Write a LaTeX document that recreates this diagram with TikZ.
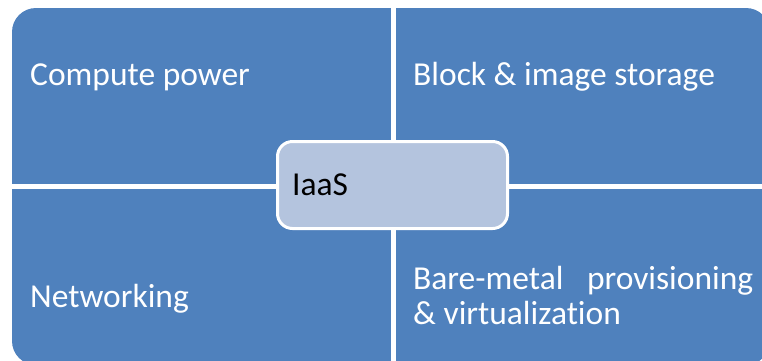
\documentclass[tikz,border=0pt]{standalone}
\usepackage{fontspec}
\setmainfont{Carlito}[Ligatures={NoCommon}]
\definecolor{quadblue}{HTML}{4F81BD}
\definecolor{centerfill}{HTML}{B4C4DE}
\tikzset{
  quadtext/.style={anchor=base west, inner sep=0pt, text=white, font=\fontsize{33.5}{35}\selectfont},
  centerbox/.style={draw=white, line width=3pt, fill=centerfill, rounded corners=15pt, inner sep=0pt},
  centertext/.style={anchor=base west, inner sep=0pt, text=black, font=\fontsize{33.5}{35}\selectfont},
  gapbar/.style={fill=white}
}
\begin{document}
\begin{tikzpicture}[x=1pt,y=-1pt]
\useasboundingbox (0,0) rectangle (762,360);
\clip (0,0) rectangle (762,360);
\fill[white] (0,0) rectangle (762,360);
% quadrants as one rounded block split by white gaps
\fill[quadblue, rounded corners=24pt] (12,8) rectangle (770,365);
\fill[gapbar] (391,0) rectangle (396,362);
\fill[gapbar] (0,184) rectangle (762,189);
% quadrant labels
\node[quadtext] (compute) at (30,85) {Compute power};
\node[quadtext] (block) at (413,85) {Block \& image storage};
\node[quadtext] (networking) at (30,307) {Networking};
\node[quadtext] (baremetal) at (413,289) {\makebox[340pt][s]{Bare-metal provisioning}};
\node[quadtext] (virt) at (413,324) {\& virtualization};
% centre
\node[centerbox, minimum width=230pt, minimum height=87pt] (iaas) at (392.5,185) {};
\node[centertext] (iaaslabel) at (292,195) {IaaS};
\end{tikzpicture}
\end{document}
